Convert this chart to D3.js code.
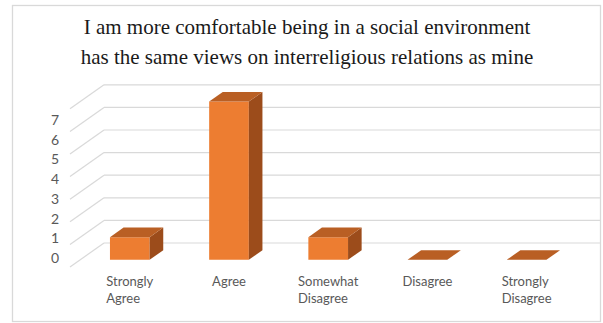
<!DOCTYPE html>
<html>
<head>
<meta charset="utf-8">
<script src="https://cdn.jsdelivr.net/npm/d3@7"></script>
<style>
  html, body { margin: 0; padding: 0; background: #fff; }
  svg { display: block; }
</style>
</head>
<body>
<svg id="chart" width="603" height="323"></svg>
<script>
const titleLines = [
  "I am more comfortable being in a social environment",
  "has the same views on interreligious relations as mine"
];
const categories = ["Strongly Agree", "Agree", "Somewhat Disagree", "Disagree", "Strongly Disagree"];
const values = [1, 7, 1, 0, 0];
const yTicks = [0, 1, 2, 3, 4, 5, 6, 7];

const svg = d3.select("#chart");
const SERIF = '"Liberation Serif"';
const SANS = '"Lato"';

// frame
svg.append("rect")
  .attr("x", 12.5).attr("y", 5.5)
  .attr("width", 588).attr("height", 316)
  .attr("fill", "#fff")
  .attr("stroke", "#d9d9d9").attr("stroke-width", 1.3);

// title
svg.append("g").selectAll("text").data(titleLines).join("text")
  .attr("x", 307)
  .attr("y", (d, i) => 34 + i * 30)
  .attr("text-anchor", "middle")
  .style("font-family", SERIF)
  .style("font-size", "21px")
  .attr("fill", "#1a1a1a")
  .text(d => d);

// oblique 3D projection
const depthX = 34, depthY = -24;
const frontD = 0.3, backD = 0.7;

const x = d3.scaleBand()
  .domain(categories)
  .range([70, 566])
  .paddingInner(0.6)
  .paddingOuter(0.3);

const y = d3.scaleLinear()
  .domain([0, d3.max(yTicks)])
  .range([267, 108.8]);

// label scale for the value axis (Excel perspective places labels slightly differently)
const yLab = d3.scaleLinear()
  .domain([0, d3.max(yTicks)])
  .range([258, 120]);

const P = (px, py, d) => [px + depthX * d, py + depthY * d];

const grid = svg.append("g")
  .attr("stroke", "#d9d9d9")
  .attr("stroke-width", 1.2)
  .attr("fill", "none");

grid.selectAll("line.diag").data(yTicks).join("line")
  .attr("class", "diag")
  .attr("x1", x.range()[0]).attr("y1", d => y(d))
  .attr("x2", x.range()[0] + depthX).attr("y2", d => y(d) + depthY);

grid.selectAll("line.back").data(yTicks).join("line")
  .attr("class", "back")
  .attr("x1", x.range()[0] + depthX).attr("y1", d => y(d) + depthY)
  .attr("x2", x.range()[1] + depthX).attr("y2", d => y(d) + depthY);

// y labels
svg.append("g").selectAll("text").data(yTicks).join("text")
  .attr("x", 59)
  .attr("y", d => yLab(d))
  .attr("dy", "0.36em")
  .attr("text-anchor", "end")
  .style("font-family", SANS)
  .style("font-size", "14px")
  .attr("fill", "#595959")
  .text(d => d);

// bars
const bw = x.bandwidth();
const colFront = "#ed7d31", colTop = "#b95f24", colSide = "#9c4c1b";
const barData = categories.map((c, i) => ({ c, v: values[i] }));
const bars = svg.append("g").selectAll("g").data(barData).join("g");

const poly = pts => "M" + pts.map(p => p.join(",")).join("L") + "Z";

bars.each(function (d) {
  const g = d3.select(this);
  const x0 = x(d.c), x1 = x(d.c) + bw;
  const yb = y(0), yt = y(d.v);
  if (d.v > 0) {
    g.append("path")
      .attr("d", poly([P(x0, yb, frontD), P(x1, yb, frontD), P(x1, yt, frontD), P(x0, yt, frontD)]))
      .attr("fill", colFront);
    g.append("path")
      .attr("d", poly([P(x1, yb, frontD), P(x1, yb, backD), P(x1, yt, backD), P(x1, yt, frontD)]))
      .attr("fill", colSide);
  }
  g.append("path")
    .attr("d", poly([P(x0, yt, frontD), P(x1, yt, frontD), P(x1, yt, backD), P(x0, yt, backD)]))
    .attr("fill", colTop);
});

// category labels
const labG = svg.append("g");

categories.forEach(c => {
  const lines = c.split(" ");
  const cx = x(c) + bw / 2 + depthX * frontD;
  const t = labG.append("text")
    .style("font-family", SANS)
    .style("font-size", "13px")
    .attr("fill", "#595959");
  lines.forEach((ln, i) => {
    t.append("tspan").attr("y", 281 + i * 17).attr("dy", "0.35em").text(ln);
  });
  let maxW = 0;
  t.selectAll("tspan").each(function () { maxW = Math.max(maxW, this.getComputedTextLength()); });
  t.selectAll("tspan").attr("x", cx - maxW / 2);
});
</script>
</body>
</html>
